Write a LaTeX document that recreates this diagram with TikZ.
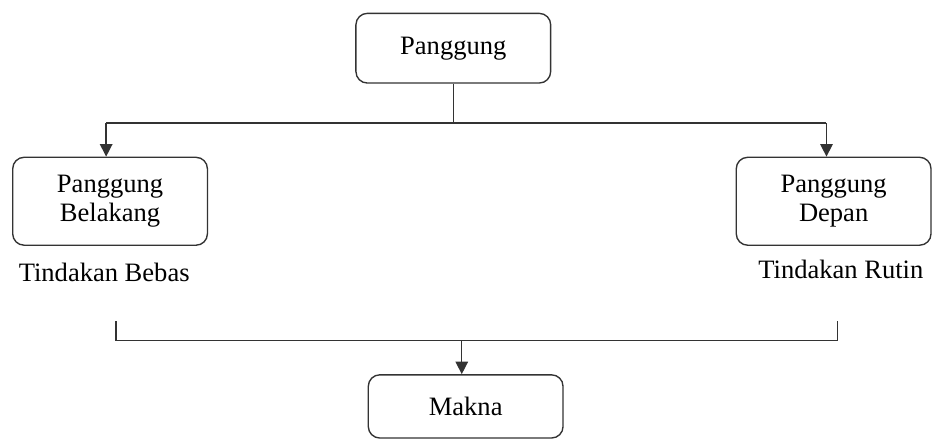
\documentclass[tikz,border=0pt]{standalone}
\usepackage{fontspec}
\setmainfont{Liberation Serif}
\usetikzlibrary{arrows.meta}

\begin{document}
\begin{tikzpicture}[
    kotak/.style={draw=black!80, line width=0.6pt, rounded corners=5pt, align=center, minimum width=2.99cm, inner sep=2pt},
    garis/.style={black!80, line width=0.6pt},
    panah/.style={garis, -{Triangle[length=5.5pt,width=5.5pt]}},
    every node/.style={font=\fontsize{11.6}{12.5}\selectfont}
]

    % batas gambar
    \useasboundingbox (0,0) rectangle (14.31,-6.74);

    % kotak-kotak
    \node[kotak, minimum height=1.07cm] (panggung) at (6.96,-0.74) {Panggung};
    \node[kotak, minimum height=1.35cm] (belakang) at (1.69,-3.09) {Panggung\\Belakang};
    \node[kotak, minimum height=1.35cm] (depan) at (12.80,-3.09) {Panggung\\Depan};
    \node[kotak, minimum height=0.97cm] (makna) at (7.15,-6.24) {Makna};

    % keterangan
    \node (bebas) at (1.60,-4.19) {Tindakan Bebas};
    \node (rutin) at (12.91,-4.13) {Tindakan Rutin};

    % titik cabang
    \coordinate (cabang) at (6.96,-1.89);
    \coordinate (kiri) at (1.63,-1.89);
    \coordinate (kanan) at (12.69,-1.89);

    % percabangan atas
    \draw[garis] (panggung.south) -- (cabang);
    \draw[garis] (kiri) -- (kanan);
    \draw[panah] (kiri) -- (kiri |- belakang.north);
    \draw[panah] (kanan) -- (kanan |- depan.north);

    % kurung bawah
    \coordinate (atasKiri) at (1.78,-4.93);
    \coordinate (bawahKiri) at (1.78,-5.23);
    \coordinate (bawahKanan) at (12.86,-5.23);
    \coordinate (atasKanan) at (12.86,-4.93);
    \coordinate (tengah) at (7.09,-5.23);
    \draw[garis] (atasKiri) -- (bawahKiri) -- (bawahKanan) -- (atasKanan);
    \draw[panah] (tengah) -- (tengah |- makna.north);

\end{tikzpicture}
\end{document}
